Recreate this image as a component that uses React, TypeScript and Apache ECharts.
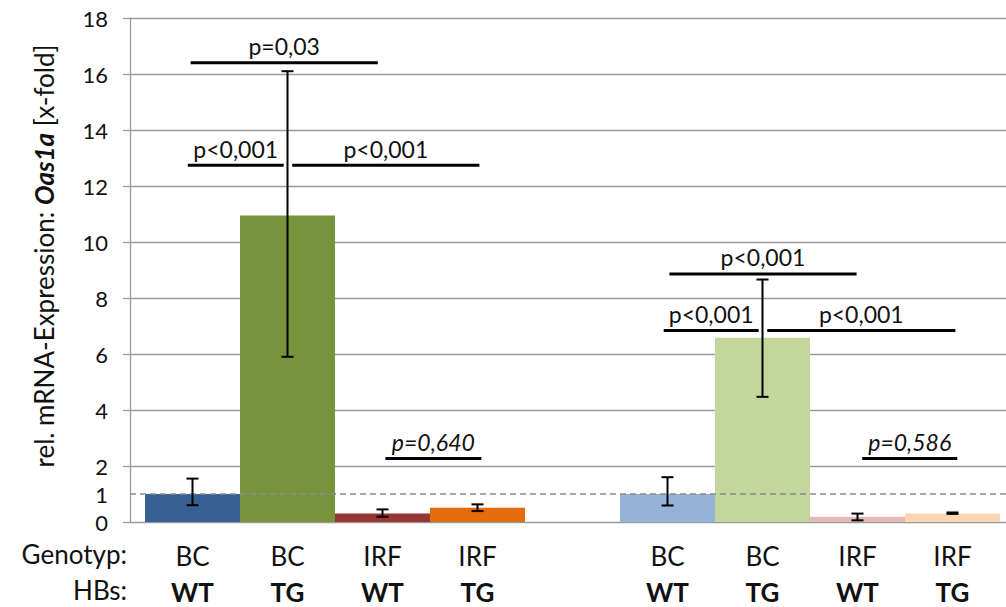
import React, { useEffect, useRef } from "react";
import * as echarts from "echarts";

// ---- data ----
const genotypes = ["BC", "BC", "IRF", "IRF", "", "BC", "BC", "IRF", "IRF"];
const hbs = ["WT", "TG", "WT", "TG", "", "WT", "TG", "WT", "TG"];
const means: (number | null)[] = [1.0, 10.95, 0.3, 0.51, null, 1.0, 6.58, 0.19, 0.3];
const errLow: (number | null)[] = [0.6, 5.9, 0.19, 0.39, null, 0.59, 4.47, 0.06, 0.29];
const errHigh: (number | null)[] = [1.55, 16.1, 0.45, 0.63, null, 1.6, 8.66, 0.3, 0.34];
const barColors = ["#376092", "#77933C", "#953735", "#E46C0A", "transparent", "#95B3D7", "#C3D69B", "#E6B9B8", "#FCD5B5"];

const yMin = 0;
const yMax = 18;
const yStep = 2;
const referenceLevel = 1;

// significance brackets (x in bar-slot units, y in data units)
const bracketStart = [0.48, 0.45, 1.55, 2.53, 5.52, 5.46, 6.55, 7.55];
const bracketEnd = [2.45, 1.46, 3.52, 3.54, 7.49, 6.46, 8.53, 8.55];
const bracketY = [16.4, 12.74, 12.74, 2.27, 8.86, 6.84, 6.84, 2.27];
const bracketLabels = ["p=0,03", "p<0,001", "p<0,001", "p=0,640", "p<0,001", "p<0,001", "p<0,001", "p=0,586"];

const rowLabels = ["Genotyp:", "HBs:"];
const yTitle = "rel. mRNA-Expression: {b|Oas1a} [x-fold]";

const FONT = "Lato";
const GRID_COLOR = "#9a9a9a";
const CAT_FS = 26;

function isSignificant(label: string) {
  const v = parseFloat(label.replace(/^p[=<]/, "").replace(",", "."));
  return label.includes("<") || v < 0.05;
}

export default function App() {
  const ref = useRef<HTMLDivElement>(null);

  useEffect(() => {
    if (!ref.current) return;
    const chart = echarts.init(ref.current, undefined, { renderer: "svg" });

    const errData = means
      .map((m, i) => (m == null ? null : [i, errLow[i], errHigh[i]]))
      .filter((d) => d != null);
    const bracketData = bracketStart.map((s, i) => [s, bracketEnd[i], bracketY[i]]);

    const option: any = {
      animation: false,
      grid: [
        { left: 130, right: 0, top: 18, bottom: 85 },
        { left: 145, right: 6, top: 18, bottom: 85 },
      ],
      xAxis: [
        { type: "value", gridIndex: 0, min: 0, max: 1, show: false },
        {
          type: "category",
          gridIndex: 1,
          data: genotypes.map((g, i) => (g ? g + " " + hbs[i] : "")),
          axisLine: { show: false },
          axisTick: { show: false },
          axisLabel: {
            interval: 0,
            margin: 16,
            formatter: (_v: string, i: number) =>
              genotypes[i] ? `{a|${genotypes[i]}}\n{b|${hbs[i]}}` : "",
            rich: {
              a: { fontFamily: FONT, fontSize: CAT_FS, color: "#111", lineHeight: 36 },
              b: { fontFamily: FONT, fontSize: CAT_FS, fontWeight: "bold", color: "#111", lineHeight: 36 },
            },
          },
        },
        { type: "value", gridIndex: 1, min: 0, max: genotypes.length, show: false },
      ],
      yAxis: [
        {
          type: "value",
          gridIndex: 0,
          min: yMin,
          max: yMax,
          interval: yStep,
          axisLine: { show: true, lineStyle: { color: GRID_COLOR, width: 1.3 } },
          axisTick: { show: true, length: 7, lineStyle: { color: GRID_COLOR, width: 1.3 } },
          splitLine: { show: true, lineStyle: { color: GRID_COLOR, width: 1.3 } },
          axisLabel: { margin: 22, fontFamily: FONT, fontSize: 22, color: "#111" },
        },
        { type: "value", gridIndex: 1, min: yMin, max: yMax, show: false },
      ],
      graphic: [
        {
          type: "text",
          x: 44,
          y: 256,
          rotation: Math.PI / 2,
          style: {
            text: yTitle,
            fontFamily: FONT,
            fontSize: 26,
            fill: "#111",
            align: "center",
            verticalAlign: "middle",
            textAlign: "center",
            textVerticalAlign: "middle",
            rich: {
              b: { fontFamily: FONT, fontSize: 26, fontWeight: "bold", fontStyle: "italic", fill: "#111" },
            },
          },
        },
        ...rowLabels.map((t, i) => ({
          type: "text",
          right: 1006 - 127,
          top: 541 + i * 36,
          style: { text: t, fontFamily: FONT, fontSize: CAT_FS, fill: "#111", align: "right", textAlign: "right" },
        })),
      ],
      series: [
        {
          type: "line",
          xAxisIndex: 0,
          yAxisIndex: 0,
          data: [],
          z: 5,
          markLine: {
            silent: true,
            symbol: "none",
            lineStyle: { type: [6, 4], color: "#8c8c8c", width: 1.5 },
            label: {
              show: true,
              position: "start",
              distance: 22,
              formatter: String(referenceLevel),
              fontFamily: FONT,
              fontSize: 22,
              color: "#111",
            },
            data: [{ yAxis: referenceLevel }],
          },
        },
        {
          type: "bar",
          xAxisIndex: 1,
          yAxisIndex: 1,
          barCategoryGap: "0%",
          z: 2,
          data: means.map((v, i) => (v == null ? "-" : { value: v, itemStyle: { color: barColors[i] } })),
        },
        {
          type: "custom",
          xAxisIndex: 1,
          yAxisIndex: 1,
          z: 6,
          data: errData,
          renderItem: (_p: any, api: any) => {
            const i = api.value(0);
            const top = api.coord([i, api.value(2)]);
            const bot = api.coord([i, api.value(1)]);
            const hw = 6;
            const st = { stroke: "#000", lineWidth: 2 };
            return {
              type: "group",
              children: [
                { type: "line", shape: { x1: top[0], y1: top[1], x2: bot[0], y2: bot[1] }, style: st },
                { type: "line", shape: { x1: top[0] - hw, y1: top[1], x2: top[0] + hw, y2: top[1] }, style: st },
                { type: "line", shape: { x1: bot[0] - hw, y1: bot[1], x2: bot[0] + hw, y2: bot[1] }, style: st },
              ],
            };
          },
        },
        {
          type: "custom",
          xAxisIndex: 2,
          yAxisIndex: 1,
          z: 7,
          data: bracketData,
          renderItem: (p: any, api: any) => {
            const a = api.coord([api.value(0), api.value(2)]);
            const b = api.coord([api.value(1), api.value(2)]);
            const label = bracketLabels[p.dataIndex];
            return {
              type: "group",
              children: [
                { type: "line", shape: { x1: a[0], y1: a[1], x2: b[0], y2: b[1] }, style: { stroke: "#000", lineWidth: 3 } },
                {
                  type: "text",
                  x: (a[0] + b[0]) / 2,
                  y: a[1] - 5,
                  style: {
                    text: label,
                    fontFamily: FONT,
                    fontSize: 23,
                    fontStyle: isSignificant(label) ? "normal" : "italic",
                    fill: "#111",
                    align: "center",
                    verticalAlign: "bottom",
                    textAlign: "center",
                    textVerticalAlign: "bottom",
                  },
                },
              ],
            };
          },
        },
      ],
    };

    chart.setOption(option);
    return () => chart.dispose();
  }, []);

  return (
    <div
      ref={ref}
      style={{ position: "fixed", left: 0, top: 0, width: 1006, height: 607, background: "#fff" }}
    />
  );
}
